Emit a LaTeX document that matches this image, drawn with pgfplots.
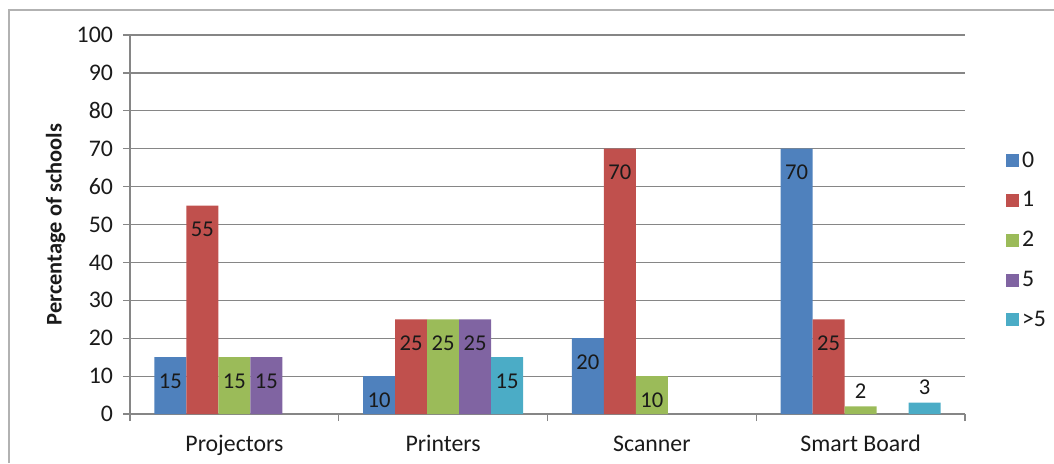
\documentclass[border=0pt]{standalone}
\usepackage{pgfplots}
\pgfplotsset{compat=1.18}
\usepackage{fontspec}
\setmainfont{Carlito}
\definecolor{c0}{HTML}{4F81BD}
\definecolor{c1}{HTML}{C0504D}
\definecolor{c2}{HTML}{9BBB59}
\definecolor{c5}{HTML}{8064A2}
\definecolor{c6}{HTML}{4BACC6}
\definecolor{axgray}{HTML}{868686}
\definecolor{txt}{HTML}{1A1A1A}
\begin{document}
\begin{tikzpicture}[x=1pt,y=1pt]
\useasboundingbox (0,0) rectangle (527,231.5);
\draw[gray!60, line width=0.9pt] (4.5,0) -- (4.5,226.5) -- (527,226.5);
\begin{axis}[
  at={(65pt,24.5pt)}, anchor=south west,
  scale only axis, width=417.5pt, height=189.5pt,
  xmin=-0.5, xmax=3.5, ymin=0, ymax=100,
  ytick={0,10,...,100},
  xtick={0,1,2,3},
  xticklabels={Projectors,Printers,Scanner,Smart Board},
  minor xtick={-0.5,0.5,1.5,2.5,3.5},
  axis x line*=bottom, axis y line*=left,
  axis line style={axgray, line width=0.6pt, -},
  tick align=outside,
  major tick length=3.5pt, minor tick length=3.5pt,
  major x tick style={draw=none},
  minor x tick style={axgray, line width=0.6pt},
  ytick style={axgray, line width=0.6pt},
  ymajorgrids, grid style={axgray, line width=0.6pt},
  /pgf/number format/assume math mode=true,
  ticklabel style={font=\fontsize{11.9}{13}\selectfont, text=txt},
  yticklabel shift=1.5pt,
  xticklabel style={anchor=base, yshift=-15pt},
  ylabel={Percentage of schools},
  every axis y label/.style={at={(axis description cs:-0.089,0.5)}, rotate=90, anchor=center, font=\bfseries\fontsize{11.2}{13}\selectfont, text=txt},
  ybar=0pt, bar width=16pt,
  nodes near coords,
  visualization depends on={y \as \rawy},
  every node near coord/.append style={font=\fontsize{11.3}{13}\selectfont, text=txt, anchor=center, yshift={ifthenelse(\rawy<5,7.5,-12)}},
  legend style={at={(1.0416,0.458)}, anchor=west, draw=none, fill=none, font=\fontsize{11.9}{13}\selectfont, text=txt, row sep=7.7pt, nodes={inner sep=1.5pt}},
  legend cell align=left,
  legend image code/.code={\fill[#1] (-1.5pt,-3.25pt) rectangle (5pt,3.25pt);},
]
\addplot[fill=c0, draw=none] coordinates {(0,15) (1,10) (2,20) (3,70)};
\addplot[fill=c1, draw=none] coordinates {(0,55) (1,25) (2,70) (3,25)};
\addplot[fill=c2, draw=none] coordinates {(0,15) (1,25) (2,10) (3,2)};
\addplot[fill=c5, draw=none] coordinates {(0,15) (1,25)};
\addplot[fill=c6, draw=none] coordinates {(1,15) (3,3)};
\legend{0,1,2,5,>5}
\end{axis}
\end{tikzpicture}
\end{document}
